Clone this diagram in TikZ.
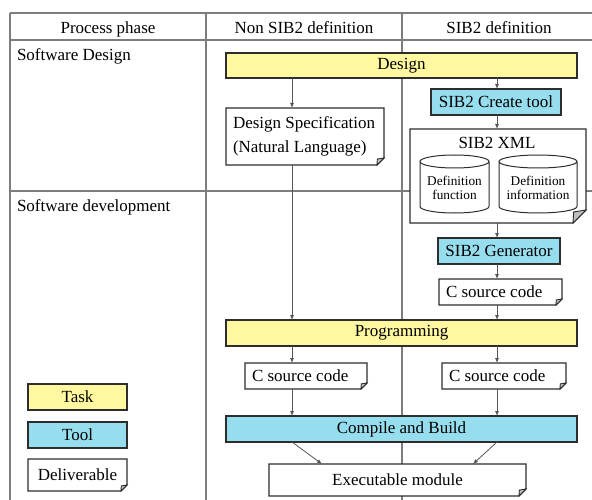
\documentclass[tikz,border=0pt]{standalone}
\usepackage{fontspec}
\setmainfont{Liberation Serif}
\usetikzlibrary{arrows.meta}
\definecolor{taskc}{RGB}{255,248,160}
\definecolor{toolc}{RGB}{150,222,238}
\definecolor{edgec}{RGB}{45,45,45}
\definecolor{gridc}{RGB}{125,125,125}
\definecolor{arrc}{RGB}{85,85,85}
\definecolor{foldc}{RGB}{190,190,190}
\tikzset{
  boxline/.style={draw=edgec, line width=1.2pt},
  base/.style={inner sep=0pt, outer sep=0pt, font=\fontsize{17}{23.5}\selectfont},
  task/.style={base, boxline, fill=taskc},
  tool/.style={base, boxline, fill=toolc},
  deliv/.style={base, fill=white},
  leftdeliv/.style={deliv, inner xsep=7pt, align=flush left},
  small/.style={inner sep=0pt, font=\fontsize{13.3}{13.6}\selectfont, align=center},
  grid/.style={draw=gridc, line width=1.3pt},
  arr/.style={draw=arrc, line width=0.8pt, -{Latex[length=5pt,width=4pt]}},
  lbl/.style={base},
}
\newcommand\dogear[2]{%
  \draw[boxline] (#1.north west) -- (#1.north east) -- ([yshift=#2pt]#1.south east)
    -- ([xshift=-#2pt]#1.south east) -- (#1.south west) -- cycle;
  \filldraw[boxline, line width=0.9pt, fill=foldc] ([yshift=#2pt]#1.south east)
    -- ([xshift=-#2pt]#1.south east) -- ([xshift=-0.95*#2pt, yshift=0.85*#2pt]#1.south east) -- cycle;
}
\newcommand\tank[2]{%
  \draw[boxline, line width=1pt] ([yshift=-6.5pt]#1.north west) -- ([yshift=6.5pt]#1.south west)
    arc[start angle=180, end angle=360, x radius=#2pt, y radius=6.5pt]
    -- ([yshift=-6.5pt]#1.north east)
    arc[start angle=0, end angle=360, x radius=#2pt, y radius=6.5pt];
}
\begin{document}
\begin{tikzpicture}[x=1pt, y=-1pt]
\useasboundingbox (0,0) rectangle (592,500);
% table grid
\draw[grid] (10,13) -- (592,13);
\draw[grid] (10,40) -- (592,40);
\draw[grid] (10,191) -- (592,191);
\draw[grid] (10,13) -- (10,500);
\draw[grid] (206,13) -- (206,500);
\draw[grid] (402,13) -- (402,500);
% header and phase labels
\node[lbl, anchor=base] (h1) at (108,34) {Process phase};
\node[lbl, anchor=base] (h2) at (304,34) {Non SIB2 definition};
\node[lbl, anchor=base] (h3) at (499,34) {SIB2 definition};
\node[lbl, anchor=base west] (p1) at (17,61) {Software Design};
\node[lbl, anchor=base west] (p2) at (17,211.5) {Software development};
% column guides
\coordinate (lx) at (292,0);
\coordinate (rx) at (497,0);
\coordinate (ex1) at (322,0);
\coordinate (ex2) at (473,0);
% nodes
\node[task, minimum width=351pt, minimum height=25pt] (design) at (401.5,65.5) {Design};
\node[leftdeliv, text width=144pt, minimum height=57pt] (spec) at (305,136.5) {Design Specification\\(Natural Language)};
\dogear{spec}{7}
\node[tool, minimum width=130pt, minimum height=26pt] (create) at (496,102) {SIB2 Create tool};
\node[deliv, minimum width=176pt, minimum height=94pt] (xml) at (498,176) {};
\dogear{xml}{13}
\node[lbl] (xmltitle) at (497,143) {SIB2 XML};
\node[base, minimum width=69pt, minimum height=58pt,
  label={[small, yshift=-4pt]center:{Definition\\function}}] (dfunc) at (454.5,184) {};
\tank{dfunc}{34.5}
\node[base, minimum width=78pt, minimum height=58pt,
  label={[small, yshift=-4pt]center:{Definition\\information}}] (dinfo) at (538,184) {};
\tank{dinfo}{39}
\node[tool, minimum width=122pt, minimum height=26pt] (gen) at (499,251) {SIB2 Generator};
\node[leftdeliv, text width=109pt, minimum height=26pt] (csrc1) at (500.5,292) {C source code};
\dogear{csrc1}{6}
\node[task, minimum width=351pt, minimum height=26pt] (prog) at (401.5,333) {Programming};
\node[leftdeliv, text width=108pt, minimum height=26pt] (csrcL) at (306,376) {C source code};
\dogear{csrcL}{6}
\node[leftdeliv, text width=110pt, minimum height=26pt] (csrcR) at (504,376) {C source code};
\dogear{csrcR}{6}
\node[tool, minimum width=351pt, minimum height=26pt] (compile) at (401.5,429) {Compile and Build};
\node[deliv, minimum width=257pt, minimum height=32pt] (exe) at (397.5,480) {Executable module};
\dogear{exe}{7}
% legend
\node[task, minimum width=99pt, minimum height=26pt] (lgtask) at (77.5,397) {Task};
\node[tool, minimum width=99pt, minimum height=26pt] (lgtool) at (77.5,435) {Tool};
\node[deliv, minimum width=99pt, minimum height=32pt] (lgdeliv) at (77.5,475) {Deliverable};
\dogear{lgdeliv}{6}
% connectors
\draw[arr] (design.south -| lx) -- (spec.north -| lx);
\draw[arr] (spec.south -| lx) -- (prog.north -| lx);
\draw[arr] (prog.south -| lx) -- (csrcL.north -| lx);
\draw[arr] (csrcL.south -| lx) -- (compile.north -| lx);
\draw[arr] (design.south -| rx) -- (create.north -| rx);
\draw[arr] (create.south -| rx) -- (xml.north -| rx);
\draw[arr] (xml.south -| rx) -- (gen.north -| rx);
\draw[arr] (gen.south -| rx) -- (csrc1.north -| rx);
\draw[arr] (csrc1.south -| rx) -- (prog.north -| rx);
\draw[arr] (prog.south -| rx) -- (csrcR.north -| rx);
\draw[arr] (csrcR.south -| rx) -- (compile.north -| rx);
\draw[arr] (compile.south -| lx) -- (exe.north -| ex1);
\draw[arr] (compile.south -| rx) -- (exe.north -| ex2);
\end{tikzpicture}
\end{document}
